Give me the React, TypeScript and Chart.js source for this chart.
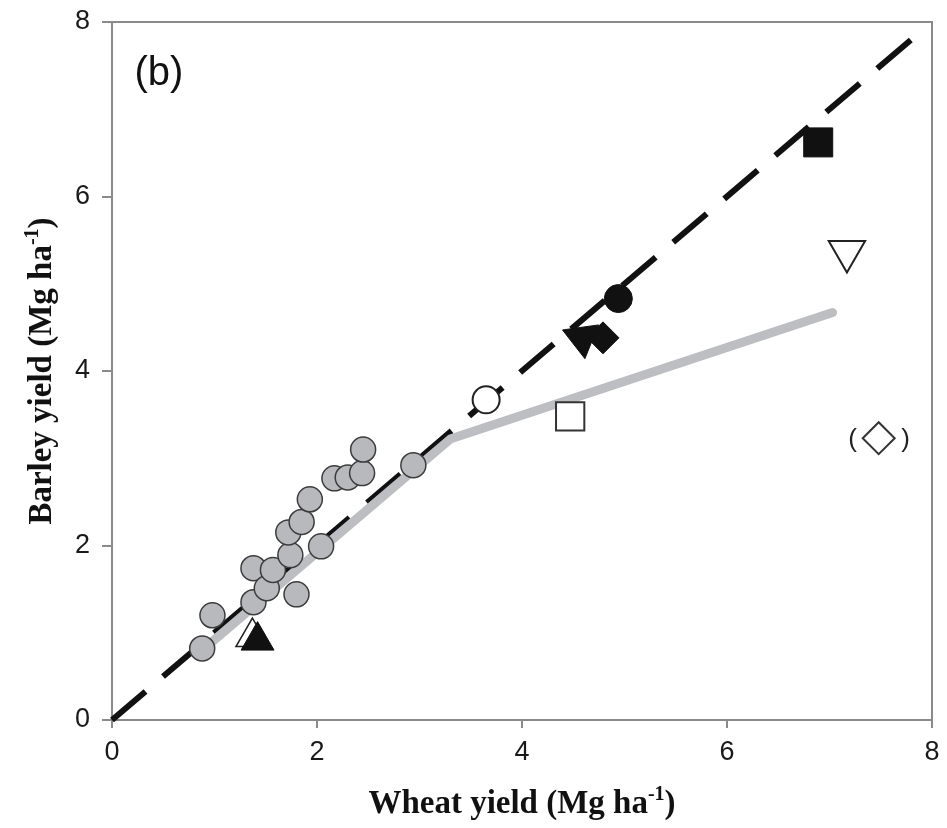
import React, { useEffect, useRef } from "react";
import { Chart, registerables } from "chart.js";

Chart.register(...registerables);

// ---------- data ----------
const xTickValues = [0, 2, 4, 6, 8];
const yTickValues = [0, 2, 4, 6, 8];

// grey circles (site data)
const siteWheat = [0.88, 0.98, 1.38, 1.38, 1.51, 1.57, 1.8, 1.74, 1.72, 1.85, 1.93, 2.04, 2.17, 2.3, 2.44, 2.45, 2.94];
const siteBarley = [0.82, 1.2, 1.35, 1.74, 1.51, 1.72, 1.44, 1.89, 2.15, 2.27, 2.53, 1.99, 2.77, 2.78, 2.83, 3.1, 2.92];

// grey broken-stick fit
const fitWheat = [0.98, 3.3, 7.03];
const fitBarley = [0.9, 3.22, 4.67];

// 1:1 dashed line
const oneToOneWheat = [0, 7.86];
const oneToOneBarley = [0, 7.86];

// individual markers [wheat, barley]
const openTriangleUp = [1.37, 0.95];
const blackTriangleUp = [1.42, 0.91];
const openCircle = [3.65, 3.67];
const openSquare = [4.47, 3.48];
const blackTriangleTilted = [4.585, 4.38];
const blackDiamond = [4.79, 4.38];
const blackCircle = [4.94, 4.83];
const blackSquare = [6.89, 6.62];
const openTriangleDown = [7.17, 5.37];
const openDiamond = [7.48, 3.23];

const panelLabel = "(b)";
const panelLabelPos = [0.22, 7.4];

const xTitle = ["Wheat yield (Mg ha", "-1", ")"];
const yTitle = ["Barley yield (Mg ha", "-1", ")"];

const pt = (a: number[]) => [{ x: a[0], y: a[1] }];

function drawSupTitle(ctx: CanvasRenderingContext2D, parts: string[], cx: number, cy: number, rot: number, base: number) {
  const main = 'bold 33px "Liberation Serif", "Times New Roman", serif';
  const sup = 'bold 20px "Liberation Serif", "Times New Roman", serif';
  ctx.save();
  ctx.translate(cx, cy);
  ctx.rotate(rot);
  ctx.font = main;
  const w1 = ctx.measureText(parts[0]).width;
  const w3 = ctx.measureText(parts[2]).width;
  ctx.font = sup;
  const w2 = ctx.measureText(parts[1]).width;
  const total = w1 + w2 + w3;
  let x = -total / 2;
  ctx.fillStyle = "#111";
  ctx.textBaseline = "alphabetic";
  ctx.textAlign = "left";
  ctx.font = main;
  ctx.fillText(parts[0], x, base);
  x += w1;
  ctx.font = sup;
  ctx.fillText(parts[1], x, base - 13);
  x += w2;
  ctx.font = main;
  ctx.fillText(parts[2], x, base);
  ctx.restore();
}

const decorPlugin = {
  id: "decor",
  beforeDatasetsDraw(chart: any) {
    const { ctx, chartArea: a } = chart;
    ctx.save();
    ctx.strokeStyle = "#8a8a8a";
    ctx.lineWidth = 2;
    ctx.strokeRect(a.left, a.top, a.right - a.left, a.bottom - a.top);
    ctx.restore();
  },
  afterDraw(chart: any) {
    const { ctx, chartArea: a, scales } = chart;
    const xs = scales.x;
    const ys = scales.y;
    ctx.save();
    ctx.fillStyle = "#111";
    ctx.font = '40px "Liberation Sans", Arial, sans-serif';
    ctx.textAlign = "left";
    ctx.textBaseline = "middle";
    ctx.fillText(panelLabel, xs.getPixelForValue(panelLabelPos[0]), ys.getPixelForValue(panelLabelPos[1]));

    // parentheses around the open diamond
    const dx = xs.getPixelForValue(openDiamond[0]);
    const dy = ys.getPixelForValue(openDiamond[1]);
    ctx.font = '26px "Liberation Sans", Arial, sans-serif';
    ctx.textAlign = "center";
    ctx.fillStyle = "#222";
    ctx.fillText("(", dx - 26, dy + 2);
    ctx.fillText(")", dx + 27, dy + 2);
    ctx.restore();

    drawSupTitle(ctx, xTitle, (a.left + a.right) / 2, 813, 0, 0);
    drawSupTitle(ctx, yTitle, 51, (a.top + a.bottom) / 2, -Math.PI / 2, 0);
  },
};

export default function App() {
  const ref = useRef<HTMLCanvasElement | null>(null);

  useEffect(() => {
    if (!ref.current) return;
    const datasetsList: any[] = [
      {
        label: "1:1",
        data: oneToOneWheat.map((x, i) => ({ x, y: oneToOneBarley[i] })),
        showLine: true,
        borderColor: "#111",
        borderWidth: 6,
        borderDash: [44, 23],
        borderCapStyle: "butt",
        pointRadius: 0,
      },
      {
        label: "fit",
        data: fitWheat.map((x, i) => ({ x, y: fitBarley[i] })),
        showLine: true,
        borderColor: "#bdbec2",
        borderWidth: 9,
        borderCapStyle: "round",
        borderJoinStyle: "round",
        pointRadius: 0,
      },
      {
        label: "sites",
        data: siteWheat.map((x, i) => ({ x, y: siteBarley[i] })),
        pointStyle: "circle",
        pointRadius: 12.5,
        backgroundColor: "#b8b9bd",
        borderColor: "#3c3c3c",
        borderWidth: 1.5,
      },
      { label: "otu", data: pt(openTriangleUp), pointStyle: "triangle", pointRadius: 19, backgroundColor: "#fff", borderColor: "#222", borderWidth: 1.5 },
      { label: "btu", data: pt(blackTriangleUp), pointStyle: "triangle", pointRadius: 19, backgroundColor: "#111", borderColor: "#111", borderWidth: 1 },
      { label: "oc", data: pt(openCircle), pointStyle: "circle", pointRadius: 13.5, backgroundColor: "#fff", borderColor: "#222", borderWidth: 2 },
      { label: "os", data: pt(openSquare), pointStyle: "rect", pointRadius: 20, backgroundColor: "#fff", borderColor: "#333", borderWidth: 2 },
      { label: "btt", data: pt(blackTriangleTilted), pointStyle: "triangle", rotation: 172, pointRadius: 21, backgroundColor: "#111", borderColor: "#111", borderWidth: 1 },
      { label: "bd", data: pt(blackDiamond), pointStyle: "rectRot", pointRadius: 16, backgroundColor: "#111", borderColor: "#111", borderWidth: 1 },
      { label: "bc", data: pt(blackCircle), pointStyle: "circle", pointRadius: 14, backgroundColor: "#111", borderColor: "#111", borderWidth: 1 },
      { label: "bs", data: pt(blackSquare), pointStyle: "rect", pointRadius: 20.5, backgroundColor: "#111", borderColor: "#111", borderWidth: 1 },
      { label: "otd", data: pt(openTriangleDown), pointStyle: "triangle", rotation: 180, pointRadius: 21, backgroundColor: "#fff", borderColor: "#222", borderWidth: 2 },
      { label: "od", data: pt(openDiamond), pointStyle: "rectRot", pointRadius: 16, backgroundColor: "#fff", borderColor: "#333", borderWidth: 2 },
    ];
    const n = datasetsList.length;
    datasetsList.forEach((d, i) => {
      d.order = n - i;
      d.clip = false;
      d.pointHoverRadius = d.pointRadius;
    });

    const tickFont = { family: '"Liberation Sans", Arial, sans-serif', size: 27 };
    const chart = new Chart(ref.current, {
      type: "scatter",
      data: { datasets: datasetsList },
      plugins: [decorPlugin],
      options: {
        animation: false,
        responsive: true,
        maintainAspectRatio: false,
        layout: { autoPadding: false, padding: { top: 22, right: 15, left: 0, bottom: 0 } },
        plugins: { legend: { display: false }, tooltip: { enabled: false } },
        scales: {
          x: {
            type: "linear",
            min: 0,
            max: 8,
            afterBuildTicks: (s: any) => {
              s.ticks = xTickValues.map((v) => ({ value: v }));
            },
            afterFit: (s: any) => {
              s.height = 108;
              s.paddingLeft = 0;
              s.paddingRight = 0;
            },
            border: { display: false },
            grid: { drawOnChartArea: false, drawTicks: true, tickLength: 8, color: "#8a8a8a", lineWidth: 2 },
            ticks: { font: tickFont, color: "#1a1a1a", padding: 8, maxRotation: 0 },
          },
          y: {
            type: "linear",
            min: 0,
            max: 8,
            afterBuildTicks: (s: any) => {
              s.ticks = yTickValues.map((v) => ({ value: v }));
            },
            afterFit: (s: any) => {
              s.width = 112;
              s.paddingTop = 0;
              s.paddingBottom = 0;
            },
            border: { display: false },
            grid: { drawOnChartArea: false, drawTicks: true, tickLength: 10, color: "#8a8a8a", lineWidth: 2 },
            ticks: { font: tickFont, color: "#1a1a1a", padding: 12 },
          },
        },
      } as any,
    });
    return () => chart.destroy();
  }, []);

  return (
    <div style={{ position: "absolute", left: 0, top: 0, width: 947, height: 828, background: "#fff" }}>
      <canvas ref={ref} />
    </div>
  );
}
